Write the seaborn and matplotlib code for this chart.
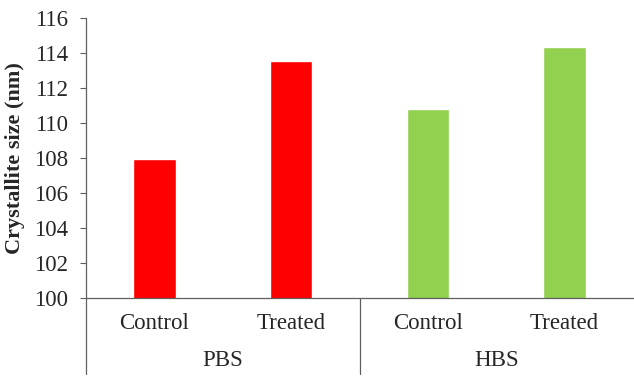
import numpy as np
import pandas as pd
import matplotlib
matplotlib.use("Agg")
import matplotlib.pyplot as plt
import seaborn as sns

# data
groups = ["PBS", "PBS", "HBS", "HBS"]
conditions = ["Control", "Treated", "Control", "Treated"]
sizes = [107.95, 113.55, 110.8, 114.35]
bar_colors = ["#FF0000", "#FF0000", "#92D050", "#92D050"]
group_names = ["PBS", "HBS"]

df = pd.DataFrame({"group": groups, "condition": conditions, "size": sizes})
df["key"] = df["group"] + " " + df["condition"]

sns.set_style("white")
plt.rcParams["font.family"] = ["Liberation Serif", "DejaVu Serif"]

fig = plt.figure(figsize=(6.34, 3.76), dpi=100)
ax = fig.add_axes([86 / 634, 78 / 376, 547 / 634, 280 / 376])

sns.barplot(data=df, x="key", y="size", hue="key", palette=bar_colors,
            width=0.31, dodge=False, legend=False, ax=ax, saturation=1)

line_col = "#5f5f5f"
fs = 16.5
ax.set_ylim(100, 116)
ax.set_yticks(np.arange(100, 117, 2))
ax.set_xlim(-0.5, 3.5)
ax.tick_params(axis="y", direction="out", length=4.5, width=0.8, color=line_col,
               labelsize=fs, pad=8.5, left=True)
ax.tick_params(axis="x", bottom=False, labelbottom=False)
for s in ["top", "right"]:
    ax.spines[s].set_visible(False)
for s in ["left", "bottom"]:
    ax.spines[s].set_color(line_col)
    ax.spines[s].set_linewidth(0.9)

ax.set_xlabel("")
ax.set_ylabel("Crystallite size (nm)", fontsize=16, fontweight="bold")
ax.yaxis.set_label_coords(-0.112, 0.5)

# multi-level category axis
trans = ax.get_xaxis_transform()
for i, c in enumerate(conditions):
    ax.text(i, -0.09, c, transform=trans, ha="center", va="center", fontsize=fs)
for j, g in enumerate(group_names):
    ax.text(2 * j + 0.5, -0.222, g, transform=trans, ha="center", va="center", fontsize=fs)
for xs in [-0.5, 1.5]:
    ax.plot([xs, xs], [0, -0.27], transform=trans, color=line_col, lw=0.9, clip_on=False)

fig.savefig("out.png", dpi=100)
